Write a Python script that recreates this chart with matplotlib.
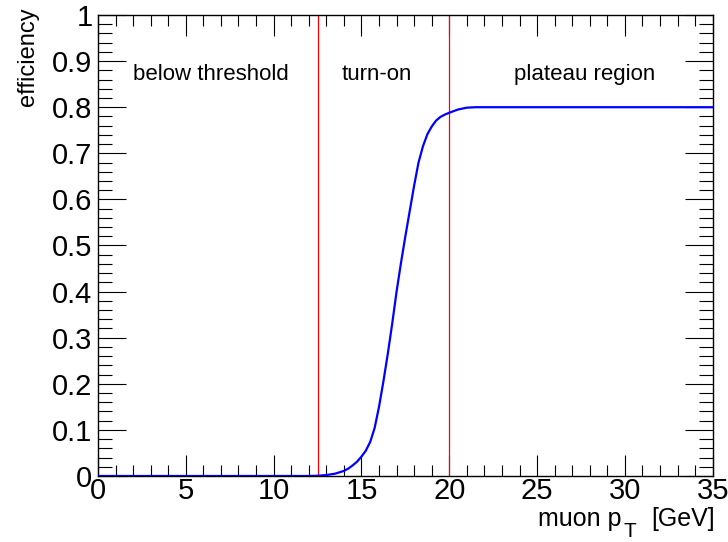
import matplotlib
matplotlib.use("Agg")
import matplotlib.pyplot as plt
from matplotlib.ticker import MultipleLocator, FuncFormatter

plt.rcParams['font.family'] = ['Liberation Sans', 'DejaVu Sans']

# efficiency curve
pt = [0, 2, 4, 6, 8, 10, 12, 12.5, 13, 13.5, 14, 14.25, 14.5, 14.75, 15, 15.25,
      15.5, 15.75, 16, 16.25, 16.5, 16.75, 17, 17.25, 17.5, 17.75, 18, 18.25,
      18.5, 18.75, 19, 19.25, 19.5, 19.75, 20, 20.5, 21, 21.5, 22, 25, 30, 35]
eff = [0, 0, 0, 0, 0, 0, 0, 0.0005, 0.002, 0.005, 0.011, 0.016, 0.023, 0.031,
       0.042, 0.055, 0.074, 0.104, 0.150, 0.205, 0.265, 0.330, 0.400, 0.462,
       0.520, 0.575, 0.630, 0.680, 0.715, 0.741, 0.758, 0.771, 0.779, 0.784,
       0.788, 0.795, 0.799, 0.800, 0.800, 0.800, 0.800, 0.800]

boundaries = [12.5, 20]
regions = ["below threshold", "turn-on", "plateau region"]
region_x = [2, 13.9, 23.7]
region_y = 0.86

fig = plt.figure(figsize=(7.28, 5.42), dpi=100)
ax = fig.add_axes([0.1346, 0.1218, 0.979 - 0.1346, 0.9723 - 0.1218])

ax.plot(pt, eff, color='#0000ff', lw=1.6, zorder=3)
for b in boundaries:
    ax.axvline(b, color='red', lw=0.9, zorder=2)
for name, x in zip(regions, region_x):
    ax.text(x, region_y, name, fontsize=16, ha='left', va='baseline')

ax.set_xlim(0, 35)
ax.set_ylim(0, 1)
ax.xaxis.set_major_locator(MultipleLocator(5))
ax.xaxis.set_minor_locator(MultipleLocator(1))
ax.yaxis.set_major_locator(MultipleLocator(0.1))
ax.yaxis.set_minor_locator(MultipleLocator(0.02))
ax.yaxis.set_major_formatter(FuncFormatter(lambda v, p: ('%.1f' % v).rstrip('0').rstrip('.') if v else '0'))

ax.tick_params(which='both', direction='in', top=True, right=True, width=0.8)
ax.tick_params(axis='y', which='major', length=20, pad=4, labelsize=21)
ax.tick_params(axis='y', which='minor', length=10)
ax.tick_params(axis='x', which='major', length=15, pad=1, labelsize=21)
ax.tick_params(axis='x', which='minor', length=8)
for s in ax.spines.values():
    s.set_linewidth(1.0)

# x title in ROOT style: "muon p" + lowered T + "[GeV]"
W, H = 728, 542
fig.text(715 / W, 1 - 526 / H, '[GeV]', fontsize=18, ha='right', va='baseline')
fig.text(623 / W, 1 - 541 / H, 'T', fontsize=15, ha='left', va='bottom')
fig.text(621 / W, 1 - 526 / H, 'muon p', fontsize=18, ha='right', va='baseline')
fig.text(28 / W, 1 - 7 / H, 'efficiency', fontsize=17, rotation=90,
         ha='center', va='top')

fig.savefig('out.png', dpi=100)
